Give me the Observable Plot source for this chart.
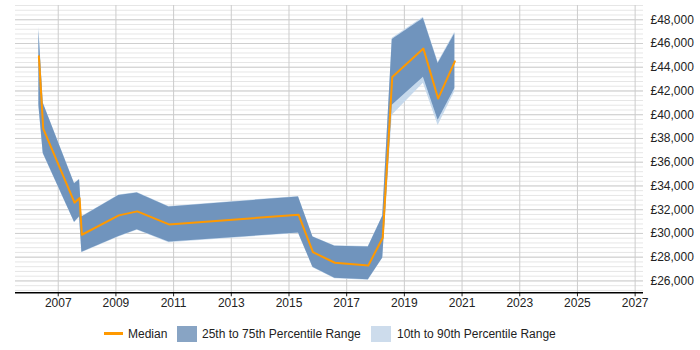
<!DOCTYPE html>
<html>
<head>
<meta charset="utf-8">
<script src="https://cdn.jsdelivr.net/npm/d3@7"></script>
<script src="https://cdn.jsdelivr.net/npm/@observablehq/plot@0.6"></script>
<style>
  html, body { margin: 0; padding: 0; background: #fff; }
  body { width: 700px; height: 350px; position: relative; overflow: hidden; font-family: "Liberation Sans", Arial, sans-serif; }
  #chart { position: absolute; left: 0; top: 0; }
  #legend { position: absolute; left: 0; top: 318px; width: 700px; height: 32px; font-size: 12px; color: #222; }
  .sw { position: absolute; }
  .lt { position: absolute; top: 9px; line-height: 14px; white-space: nowrap; }
</style>
</head>
<body>
<div id="chart"></div>
<div id="legend">
  <span class="sw" style="left:104px; top:14px; width:19px; height:3px; background:#ff9900;"></span>
  <span class="lt" style="left:128px;">Median</span>
  <span class="sw" style="left:177px; top:8px; width:20px; height:16px; background:#88a4c4;"></span>
  <span class="lt" style="left:202px;">25th to 75th Percentile Range</span>
  <span class="sw" style="left:371px; top:8px; width:20px; height:16px; background:#cddcec;"></span>
  <span class="lt" style="left:397px;">10th to 90th Percentile Range</span>
</div>
<script>
// ---- data ----
const years  = [2006.33, 2006.48, 2007.565, 2007.74, 2007.82, 2009.10, 2009.74, 2010.84, 2015.33, 2015.83, 2016.59, 2017.75, 2018.25, 2018.58, 2019.66, 2020.17, 2020.75];
const median = [44925, 38830, 32590, 32980, 29890, 31520, 31860, 30760, 31580, 28420, 27530, 27300, 29640, 43180, 45570, 41360, 44500];
const q25    = [40800, 36750, 30950, 31400, 28420, 29750, 30310, 29270, 30040, 27160, 26230, 26100, 27940, 40790, 43150, 39530, 42200];
const q75    = [47100, 40960, 34190, 34530, 31380, 33200, 33400, 32220, 33080, 29690, 28930, 28850, 31440, 46330, 48100, 44310, 46820];
const p10    = [40600, 36700, 30900, 31350, 28380, 29700, 30260, 29220, 30000, 27120, 26190, 26060, 27900, 39950, 42650, 39100, 41950];
const p90    = [47400, 41000, 34230, 34570, 31420, 33240, 33440, 32260, 33120, 29730, 28970, 28890, 31480, 46450, 48200, 44420, 46950];

const xTicks     = [2007, 2009, 2011, 2013, 2015, 2017, 2019, 2021, 2023, 2025, 2027];
const yTicks     = [26000, 28000, 30000, 32000, 34000, 36000, 38000, 40000, 42000, 44000, 46000, 48000];
const yMinorStep = 400;

const rows = years.map((y, i) => ({year: y, median: median[i], q25: q25[i], q75: q75[i], p10: p10[i], p90: p90[i]}));
const yMinor = d3.range(25200, 49201, yMinorStep);

const fmt = d3.format(",");
const chart = Plot.plot({
  width: 700,
  height: 318,
  marginTop: 5,
  marginBottom: 25.7,
  marginLeft: 15,
  marginRight: 57,
  x: {domain: [2005.519, 2027.29]},
  y: {domain: [25000, 49200]},
  style: {fontFamily: "'Liberation Sans', Arial, sans-serif", fontSize: "12px", color: "#222", background: "#fff"},
  marks: [
    Plot.gridY(yMinor, {stroke: "#e6e6e6", strokeOpacity: 1}),
    Plot.gridY(yTicks, {stroke: "#cfcfcf", strokeOpacity: 1}),
    Plot.gridX(xTicks, {stroke: "#cccccc", strokeOpacity: 1}),
    Plot.areaY(rows, {x: "year", y1: "p10", y2: "p90", fill: "#c6d9ec", fillOpacity: 1}),
    Plot.areaY(rows, {x: "year", y1: "q25", y2: "q75", fill: "#7094bd", fillOpacity: 1}),
    Plot.lineY(rows, {x: "year", y: "median", stroke: "#ff9900", strokeWidth: 2}),
    Plot.axisY(yTicks, {anchor: "right", tickSize: 0, tickPadding: 7, tickFormat: d => "£" + fmt(d), label: null}),
    Plot.axisX(xTicks, {anchor: "bottom", tickSize: 4, tickPadding: 2, tickFormat: d => String(d), label: null}),
    Plot.ruleY([25000], {stroke: "#000", strokeWidth: 1.5})
  ]
});
document.getElementById("chart").appendChild(chart);
</script>
</body>
</html>
